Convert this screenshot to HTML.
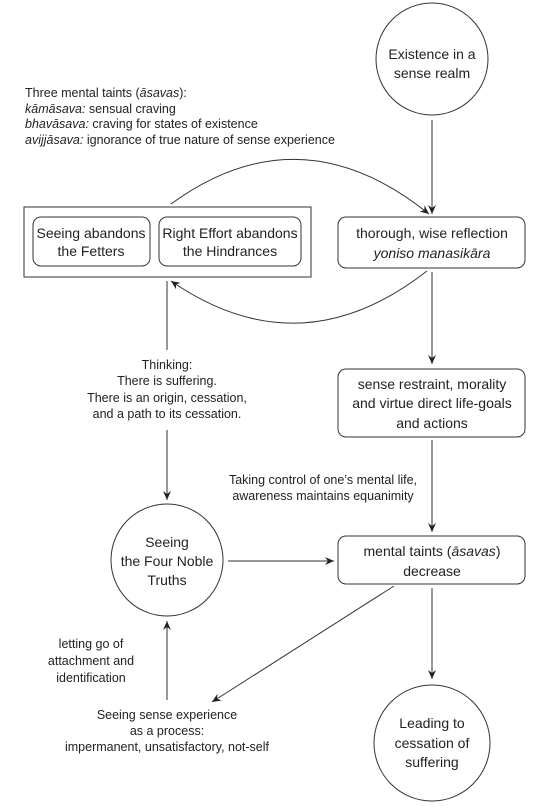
<!DOCTYPE html>
<html><head><meta charset="utf-8"><style>
html,body{margin:0;padding:0;background:#fff}
svg{display:block}
text{font-family:"Liberation Sans","DejaVu Sans",sans-serif;fill:#222}
.n{font-size:14px}
.s{font-size:12.5px}
</style></head><body>
<svg width="543" height="810" viewBox="0 0 543 810" xmlns="http://www.w3.org/2000/svg">
<defs><marker id="a" markerWidth="10" markerHeight="10" refX="9" refY="5" orient="auto" markerUnits="userSpaceOnUse"><path d="M0,1 L9,5 L0,9 L3,5 Z" fill="#222"/></marker></defs>
<g fill="none" stroke="#333" stroke-width="1">
<circle cx="432" cy="59" r="56"/>
<rect x="24" y="207" width="287" height="70"/>
<rect x="33" y="217" width="117" height="49" rx="8"/>
<rect x="159" y="217" width="142" height="49" rx="8"/>
<rect x="338" y="217" width="187" height="51" rx="8"/>
<rect x="338" y="369" width="187" height="68" rx="8"/>
<rect x="338" y="536" width="187" height="48" rx="8"/>
<circle cx="167" cy="560" r="56"/>
<circle cx="432" cy="743" r="58"/>
<line x1="432" y1="120" x2="432" y2="214" marker-end="url(#a)"/>
<path d="M171,204 Q300,110 429,214" marker-end="url(#a)"/>
<path d="M427,271 Q300,370 171,281" marker-end="url(#a)"/>
<line x1="432" y1="272" x2="432" y2="364" marker-end="url(#a)"/>
<line x1="432" y1="440" x2="432" y2="532" marker-end="url(#a)"/>
<line x1="432" y1="588" x2="432" y2="679" marker-end="url(#a)"/>
<line x1="167" y1="281" x2="167" y2="350"/>
<line x1="167" y1="430" x2="167" y2="500" marker-end="url(#a)"/>
<line x1="228" y1="561" x2="334" y2="561" marker-end="url(#a)"/>
<line x1="394" y1="586" x2="212" y2="702" marker-end="url(#a)"/>
<line x1="167" y1="700" x2="167" y2="621" marker-end="url(#a)"/>
</g>
<g class="n" text-anchor="middle">
<text x="432" y="59">Existence in a</text><text x="432" y="78">sense realm</text>
<text x="91" y="238">Seeing abandons</text><text x="91" y="256">the Fetters</text>
<text x="230" y="238">Right Effort abandons</text><text x="230" y="256">the Hindrances</text>
<text x="432" y="238">thorough, wise reflection</text><text x="432" y="258" font-style="italic">yoniso manasikāra</text>
<text x="432" y="389">sense restraint, morality</text><text x="432" y="408">and virtue direct life-goals</text><text x="432" y="428">and actions</text>
<text x="432" y="556">mental taints (<tspan font-style="italic">āsavas</tspan>)</text><text x="432" y="576">decrease</text>
<text x="167" y="547">Seeing</text><text x="167" y="566">the Four Noble</text><text x="167" y="585">Truths</text>
<text x="432" y="728">Leading to</text><text x="432" y="748">cessation of</text><text x="432" y="767">suffering</text>
</g>
<g class="s">
<text x="25" y="97">Three mental taints (<tspan font-style="italic">āsavas</tspan>):</text>
<text x="25" y="113"><tspan font-style="italic">kāmāsava:</tspan> sensual craving</text>
<text x="25" y="128"><tspan font-style="italic">bhavāsava:</tspan> craving for states of existence</text>
<text x="25" y="144"><tspan font-style="italic">avijjāsava:</tspan> ignorance of true nature of sense experience</text>
</g>
<g class="s" text-anchor="middle">
<text x="167" y="369">Thinking:</text><text x="167" y="385">There is suffering.</text><text x="167" y="402">There is an origin, cessation,</text><text x="167" y="418">and a path to its cessation.</text>
<text x="323" y="484">Taking control of one’s mental life,</text><text x="323" y="500">awareness maintains equanimity</text>
<text x="91" y="648">letting go of</text><text x="91" y="665">attachment and</text><text x="91" y="682">identification</text>
<text x="167" y="719">Seeing sense experience</text><text x="167" y="735">as a process:</text><text x="167" y="751">impermanent, unsatisfactory, not-self</text>
</g>
</svg>
</body></html>
